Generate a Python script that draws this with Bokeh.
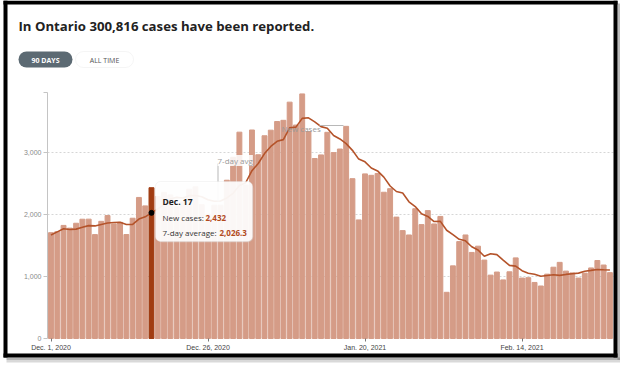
import pandas as pd
from bokeh.plotting import figure
from bokeh.models import (ColumnDataSource, FixedTicker, Label, BoxAnnotation,
                          Range1d)
from bokeh.embed import file_html
from bokeh.resources import INLINE

# ---------------- data ----------------
TITLE = "In Ontario 300,816 cases have been reported."
BUTTONS = ["90 DAYS", "ALL TIME"]

dates = pd.date_range("2020-12-01", "2021-02-28", freq="D")

new_cases = [
    1707, 1723, 1824, 1780, 1859, 1924, 1925, 1676, 1890, 1983,
    1848, 1873, 1677, 1940, 2275, 2139, 2432, 2290, 2357, 2316,
    2123, 2202, 2408, 2447, 2159, 2005, 2150, 2150, 2553, 2923,
    3328, 2476, 3363, 2964, 3270, 3360, 3500, 3519, 3812, 3443,
    3945, 3338, 2903, 2961, 3326, 2998, 3056, 3422, 2578, 1913,
    2655, 2632, 2662, 2359, 2417, 1958, 1740, 1670, 2093, 1837,
    2063, 1848, 1969, 745, 1172, 1563, 1670, 1388, 1489, 1265,
    1022, 1072, 945, 1076, 1300, 975, 981, 904, 847, 1038,
    1150, 1228, 1087, 1058, 975, 1054, 1138, 1258, 1185, 1062,
]

avg_7day = [
    1669.9, 1719.9, 1769.3, 1758.6, 1763.9, 1794.7, 1820.3, 1815.9, 1839.7, 1862.4,
    1872.1, 1874.1, 1838.9, 1841.0, 1926.6, 1962.1, 2026.3, 2089.4, 2158.6, 2249.9,
    2276.0, 2265.6, 2304.0, 2306.1, 2287.4, 2237.1, 2213.4, 2217.3, 2267.4, 2341.0,
    2466.9, 2512.1, 2706.1, 2822.4, 2982.4, 3097.7, 3180.1, 3207.4, 3398.3, 3409.7,
    3549.9, 3559.6, 3494.3, 3417.3, 3389.7, 3273.4, 3218.1, 3143.4, 3034.9, 2893.4,
    2849.7, 2750.6, 2702.6, 2603.0, 2459.4, 2370.9, 2346.1, 2205.4, 2128.4, 2010.6,
    1968.3, 1887.0, 1888.6, 1746.4, 1675.3, 1599.6, 1575.7, 1479.3, 1428.0, 1327.4,
    1367.0, 1352.7, 1264.4, 1179.6, 1167.0, 1093.6, 1053.0, 1036.1, 1004.0, 1017.3,
    1027.9, 1017.6, 1033.6, 1044.6, 1054.7, 1084.3, 1098.6, 1114.0, 1107.9, 1104.3,
]

x_tick_dates = ["2020-12-01", "2020-12-26", "2021-01-20", "2021-02-14"]
x_tick_labels = ["Dec. 1, 2020", "Dec. 26, 2020", "Jan. 20, 2021", "Feb. 14, 2021"]
y_ticks = [0, 1000, 2000, 3000]
y_tick_labels = ["0", "1,000", "2,000", "3,000"]
y_axis_top = 3960

highlight_date = "2020-12-17"
highlight_title = "Dec. 17"

# ---------------- layout / styles ----------------
W, H = 620, 366
X0_PX, PX_PER_DAY = 50.5, 6.28        # page x of first bar, spacing
Y0_PX, PX_PER_UNIT = 338.0, 0.062     # page y of zero, px per case
AXIS_PX, RIGHT_PX = 47.0, 613.0

BAR = "#d59c87"
BAR_HI = "#a13c12"
LINE = "#b4532a"
VAL = "#b24a1c"
FONT = "Open Sans"

idx = list(range(len(dates)))
date_keys = [d.strftime("%Y-%m-%d") for d in dates]
hi = date_keys.index(highlight_date)
colors = [BAR_HI if i == hi else BAR for i in idx]


def px_to_x(px):
    return (px - X0_PX) / PX_PER_DAY


src = ColumnDataSource(dict(x=idx, cases=new_cases, avg=avg_7day, color=colors))

p = figure(width=W, height=H, output_backend="svg", toolbar_location=None,
           x_range=Range1d(px_to_x(0), px_to_x(W)),
           y_range=Range1d(-(H - Y0_PX) / PX_PER_UNIT, Y0_PX / PX_PER_UNIT),
           min_border=0)
p.outline_line_color = None
p.background_fill_color = "white"
p.border_fill_color = "white"
p.xgrid.visible = False
p.ygrid.visible = False

axis_x = px_to_x(AXIS_PX)
right_x = px_to_x(RIGHT_PX)

# dotted gridlines between the axis and the right edge
p.segment(x0=[axis_x] * 3, x1=[right_x] * 3, y0=y_ticks[1:], y1=y_ticks[1:],
          line_color="#d6d6d6", line_dash="2 2", line_width=1)

p.vbar(x="x", top="cases", width=0.78, color="color", source=src)
p.line(x="x", y="avg", color=LINE, line_width=1.6, source=src)
p.scatter(x=[hi], y=[avg_7day[hi]], size=5, color="black")

xt = [date_keys.index(d) for d in x_tick_dates]
xa = p.xaxis[0]
xa.fixed_location = 0
xa.ticker = FixedTicker(ticks=xt)
xa.major_label_overrides = {t: l for t, l in zip(xt, x_tick_labels)}
xa.axis_line_color = None
xa.major_tick_out = 3
xa.major_tick_in = 0
xa.minor_tick_line_color = None
xa.major_tick_line_color = "#777777"
xa.major_label_standoff = 2
xa.major_label_text_font = "Liberation Sans"
xa.major_label_text_font_size = "7px"
xa.major_label_text_color = "#444444"

ya = p.yaxis[0]
ya.fixed_location = axis_x
ya.bounds = (0, y_axis_top)
ya.ticker = FixedTicker(ticks=y_ticks + [y_axis_top])
overrides = {t: l for t, l in zip(y_ticks, y_tick_labels)}
overrides[y_axis_top] = ""
ya.major_label_overrides = overrides
ya.axis_line_color = "#c4c4c4"
ya.major_tick_line_color = "#c4c4c4"
ya.major_tick_out = 4
ya.major_tick_in = 0
ya.minor_tick_line_color = None
ya.major_label_standoff = 2
ya.major_label_text_font = "Liberation Sans"
ya.major_label_text_font_size = "7px"
ya.major_label_text_color = "#8a8a8a"


# decorations, positioned in page pixels (frame covers the whole canvas)
def sbox(left, right, top, bottom, **kw):
    bx = BoxAnnotation(left=left, right=right, top=H - top, bottom=H - bottom,
                       left_units="screen", right_units="screen",
                       top_units="screen", bottom_units="screen", **kw)
    p.add_layout(bx)
    return bx


def slabel(x, y, text, size, color, style="normal", align="left",
           baseline="alphabetic", **kw):
    lb = Label(x=x, y=H - y, x_units="screen", y_units="screen", text=text,
               text_font=FONT, text_font_size=size, text_color=color,
               text_font_style=style, text_align=align, text_baseline=baseline,
               **kw)
    p.add_layout(lb)
    return lb


# annotation leaders and labels
sbox(217, 218, 163, 201, fill_color="#b8b8b8", fill_alpha=1, line_color=None)
slabel(217, 160, "7-day avg", "8px", "#9a9a9a",
       background_fill_color="white", background_fill_alpha=0.85)
sbox(319, 343, 124.5, 125.5, fill_color="#b8b8b8", fill_alpha=1, line_color=None)
slabel(281, 128, "New cases", "8px", "#9a9a9a")

# tooltip
sbox(156, 253, 182, 242, fill_color="#d8d8d8", fill_alpha=0.35, line_color=None,
     border_radius=6)
sbox(155, 252, 181, 241, fill_color="white", fill_alpha=0.9,
     line_color="#dddddd", line_width=1, border_radius=5)
slabel(162, 201, highlight_title, "8.5px", "#222222", style="bold")
slabel(162, 217, "New cases:", "8px", "#333333")
slabel(205, 217, f"{new_cases[hi]:,}", "8px", VAL, style="bold")
slabel(162, 232, "7-day average:", "8px", "#333333")
slabel(219, 232, f"{avg_7day[hi]:,.1f}", "8px", VAL, style="bold")

# header
slabel(18, 25, TITLE, "13.2px", "#222222", style="bold")
sbox(18, 72, 51, 67, fill_color="#5c6a73", fill_alpha=1, line_color=None,
     border_radius=8)
sbox(75, 133, 51, 67, fill_color="white", fill_alpha=1, line_color="#dddddd",
     border_radius=8)
slabel(45, 59.5, BUTTONS[0], "7px", "white", style="bold", align="center",
       baseline="middle")
slabel(104, 59.5, BUTTONS[1], "7px", "#555555", align="center",
       baseline="middle")

# outer black frame with a soft shadow
sbox(6, 620, 357, 359.5, fill_color="#777777", fill_alpha=0.55, line_color=None)
sbox(6, 620, 359.5, 362, fill_color="#aaaaaa", fill_alpha=0.45, line_color=None)
sbox(617, 619.5, 3, 359.5, fill_color="#777777", fill_alpha=0.5, line_color=None)
sbox(3, 617, 0, 4, fill_color="black", fill_alpha=1, line_color=None)
sbox(3, 617, 353, 357, fill_color="black", fill_alpha=1, line_color=None)
sbox(3, 7, 0, 357, fill_color="black", fill_alpha=1, line_color=None)
sbox(613, 617, 0, 357, fill_color="black", fill_alpha=1, line_color=None)

open("out.html", "w").write(file_html(p, INLINE))
